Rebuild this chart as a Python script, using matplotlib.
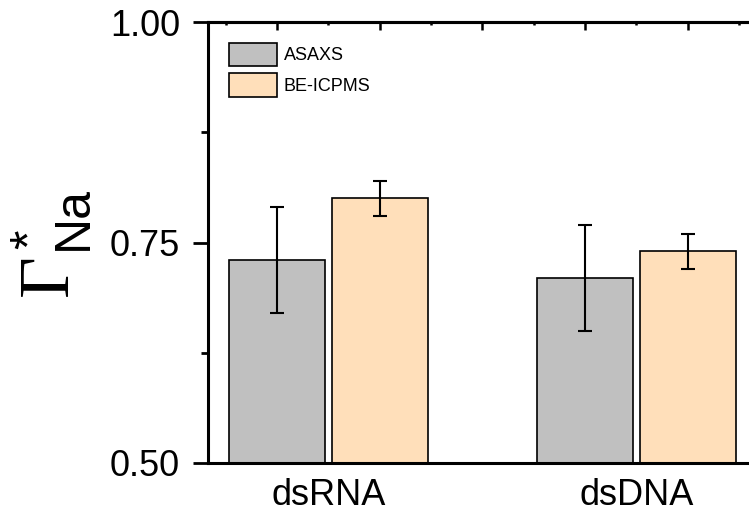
import matplotlib
matplotlib.use("Agg")
import matplotlib.pyplot as plt
from matplotlib.ticker import FixedLocator, NullFormatter
import numpy as np

categories = ["dsRNA", "dsDNA"]
series_names = ["ASAXS", "BE-ICPMS"]
asaxs_vals = [0.73, 0.71]
asaxs_err = [0.06, 0.06]
icpms_vals = [0.80, 0.74]
icpms_err = [0.02, 0.02]
ytick_labels = ["0.50", "0.75", "1.00"]
yticks = [0.50, 0.75, 1.00]

plt.rcParams['font.family'] = ['Liberation Sans', 'DejaVu Sans']

W, H = 749, 521
fig = plt.figure(figsize=(W / 100, H / 100), dpi=100)

x0, x1 = 0.609, 2.391
left_px, top_px, bot_px = 208, 22, 463
px_per_unit = 308
right_px = left_px + (x1 - x0) * px_per_unit
ax = fig.add_axes([left_px / W, 1 - bot_px / H, (right_px - left_px) / W, (bot_px - top_px) / H])

x = np.arange(1, len(categories) + 1)
bw = 96 / 308
off = (96 + 7) / 2 / 308
colors = ["#C0C0C0", "#FFDFBA"]

err_kw = dict(ecolor="black", elinewidth=1.5, capsize=5, capthick=1.5)
ax.bar(x - off, asaxs_vals, bw, yerr=asaxs_err, color=colors[0], edgecolor="black",
       linewidth=1.2, label=series_names[0], error_kw=err_kw, zorder=2)
ax.bar(x + off, icpms_vals, bw, yerr=icpms_err, color=colors[1], edgecolor="black",
       linewidth=1.2, label=series_names[1], error_kw=err_kw, zorder=2)

ax.set_xlim(x0, x1)
ax.set_ylim(0.5, 1.0)
ax.set_yticks(yticks)
ax.set_yticklabels(ytick_labels)
ax.yaxis.set_minor_locator(FixedLocator([0.625, 0.875]))
ax.set_xticks(x)
ax.set_xticklabels(categories)

for s in ax.spines.values():
    s.set_linewidth(2.2)

ax.tick_params(axis="y", which="major", direction="out", length=11, width=2.0,
               labelsize=26, pad=9)
ax.tick_params(axis="y", which="minor", direction="out", length=5, width=2.0)
ax.tick_params(axis="x", which="major", length=0, labelsize=26, pad=11)

sec = ax.secondary_xaxis("top")
sec.xaxis.set_major_locator(FixedLocator([1 - 1/6 + k/3 for k in range(6)]))
sec.xaxis.set_minor_locator(FixedLocator([2/3 + k/3 for k in range(6)]))
sec.xaxis.set_major_formatter(NullFormatter())
sec.tick_params(which="major", direction="in", length=5.5, width=1.8)
sec.tick_params(which="minor", direction="in", length=2.5, width=1.8)
sec.spines["top"].set_linewidth(2.2)

leg = ax.legend(loc="upper left", bbox_to_anchor=((227 - left_px - 2) / (right_px - left_px), 1 - 17 / (bot_px - top_px)),
                frameon=False, fontsize=13, handlelength=2.7, handleheight=1.65,
                labelspacing=0.35, handletextpad=0.35, borderpad=0.2, borderaxespad=0)

def fpos(px, py):
    return px / W, 1 - py / H

gx, gy = fpos(67, 296)
fig.text(gx, gy, "\u0393", fontsize=52, family=["Liberation Serif", "DejaVu Serif"],
         rotation=90, rotation_mode="anchor", ha="left", va="baseline")
sx, sy = fpos(45, 249)
fig.text(sx, sy, "*", fontsize=36, rotation=90, rotation_mode="anchor", ha="left", va="baseline")
nx, ny = fpos(87, 250)
fig.text(nx, ny, "Na", fontsize=36, rotation=90, rotation_mode="anchor", ha="left", va="baseline")

fig.savefig("out.png", dpi=100)
